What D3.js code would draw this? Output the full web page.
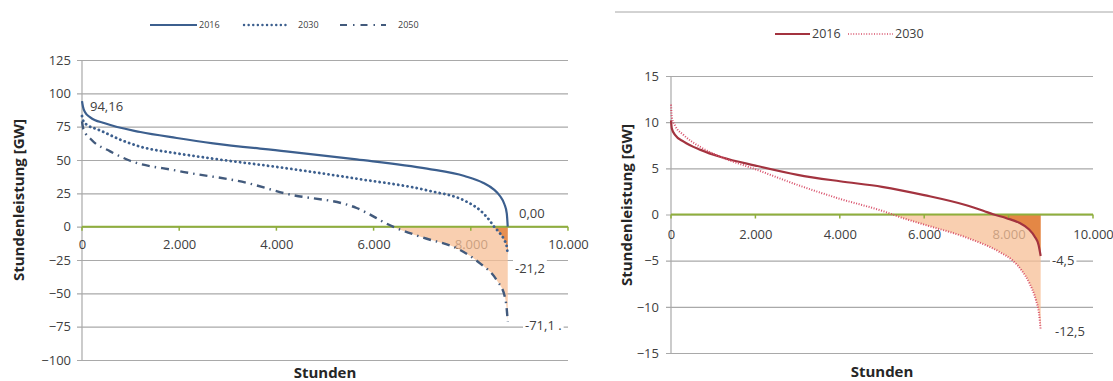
<!DOCTYPE html>
<html><head><meta charset="utf-8">
<script src="https://cdn.jsdelivr.net/npm/d3@7"></script>
<style>body{margin:0;background:#fff}text{font-family:"Open Sans",sans-serif}</style>
</head><body>
<svg id="c" width="1113" height="381"></svg>
<script>
// ---------- data ----------
const xTicks = [0, 2000, 4000, 6000, 8000, 10000];
const xTickLabels = ["0", "2.000", "4.000", "6.000", "8.000", "10.000"];
const leftYTicks = [125, 100, 75, 50, 25, 0, -25, -50, -75, -100];
const rightYTicks = [15, 10, 5, 0, -5, -10, -15];
const leftSeriesNames = ["2016", "2030", "2050"];
const rightSeriesNames = ["2016", "2030"];

const leftHours2016 = [0, 20, 60, 170, 470, 1200, 1950, 2700, 4200, 5650, 7100, 7870, 8250, 8470, 8600, 8690, 8740, 8760];
const leftValues2016 = [94.16, 90, 86, 82, 77.5, 71, 66.5, 62.5, 56.5, 50.5, 43.5, 38, 33, 28, 23, 17, 10, 0];

const leftHours2030 = [0, 30, 120, 320, 840, 1200, 1950, 2700, 4170, 5650, 7130, 7900, 8200, 8380, 8480, 8600, 8690, 8740, 8760];
const leftValues2030 = [83, 79, 76, 73, 64.5, 60, 55, 51, 44, 36, 27, 19, 12, 5, 0, -5, -10, -15, -21.2];

const leftHours2050 = [0, 30, 200, 580, 950, 1950, 3430, 4170, 5650, 6400, 7000, 7780, 8190, 8530, 8700, 8740, 8760];
const leftValues2050 = [79, 73, 65, 56.5, 50, 42, 32.5, 25, 14, 0, -8, -17.5, -27.5, -40, -52.5, -62, -71.1];

const rightHours2016 = [0, 20, 100, 300, 700, 1200, 2000, 3000, 4000, 5000, 6000, 7000, 7400, 7650, 7950, 8250, 8480, 8620, 8710, 8760];
const rightValues2016 = [10.2, 9.3, 8.6, 7.9, 7.0, 6.2, 5.3, 4.3, 3.6, 3.0, 2.1, 1.0, 0.4, 0, -0.4, -0.9, -1.6, -2.4, -3.3, -4.5];

const rightHours2030 = [0, 20, 100, 300, 700, 1200, 2000, 3000, 4000, 5000, 5500, 6000, 7000, 7800, 8100, 8300, 8500, 8650, 8720, 8760];
const rightValues2030 = [11.9, 10.5, 9.6, 8.6, 7.3, 6.2, 4.9, 3.2, 1.7, 0.4, -0.4, -1.1, -2.5, -4.1, -5.0, -6.0, -7.5, -9.3, -10.7, -12.5];

// ---------- helpers ----------
const svg = d3.select("#c");
const zip = (h, v) => h.map((d, i) => ({h: d, v: v[i]}));
const fmt = d => xTickLabels[xTicks.indexOf(d)];
const FONT = 13;

function panel(o) {
  const x = d3.scaleLinear().domain([0, 10000]).range([o.left, o.right]);
  const y = d3.scaleLinear().domain(o.yDomain).range([o.bottom, o.top]);
  const g = svg.append("g");

  // gridlines
  g.append("g").attr("transform", `translate(${o.left - 5},0)`)
    .call(d3.axisLeft(y).tickValues(o.yTicks).tickSize(-(o.right - o.left + 5)).tickFormat(""))
    .call(s => s.select(".domain").remove())
    .call(s => s.selectAll("line").attr("stroke", "#a9a9a9").attr("stroke-width", 1.2));
  // y labels
  g.append("g").attr("transform", `translate(${o.left},0)`)
    .call(d3.axisLeft(y).tickValues(o.yTicks).tickSize(0).tickPadding(o.yPad))
    .call(s => s.select(".domain").remove())
    .call(s => s.selectAll("text").attr("fill", "#404040").attr("font-size", FONT).attr("font-family", "Open Sans"));
  // vertical axis line
  g.append("line").attr("x1", o.left).attr("x2", o.left).attr("y1", y(o.yDomain[1])).attr("y2", y(o.yDomain[0]))
    .attr("stroke", "#a9a9a9").attr("stroke-width", 1.2);
  // x labels
  g.append("g").attr("transform", `translate(0,${y(0)})`)
    .call(d3.axisBottom(x).tickValues(xTicks).tickSize(0).tickPadding(o.xPad).tickFormat(fmt))
    .call(s => s.select(".domain").remove())
    .call(s => s.selectAll("text").attr("fill", "#404040").attr("font-size", FONT).attr("font-family", "Open Sans"));

  // fills (clipped below zero)
  const clipId = "clip" + o.id;
  svg.append("clipPath").attr("id", clipId).append("rect")
    .attr("x", o.left).attr("y", y(0)).attr("width", o.right - o.left).attr("height", o.bottom - y(0));
  const area = d3.area().x(d => x(d.h)).y0(y(0)).y1(d => y(d.v)).curve(d3.curveMonotoneX);
  o.fills.forEach(f => {
    g.append("path").datum(f.data).attr("d", area).attr("fill", f.color).attr("opacity", f.opacity)
      .attr("clip-path", `url(#${clipId})`);
  });

  // zero line + ticks
  g.append("line").attr("x1", o.left).attr("x2", o.right).attr("y1", y(0)).attr("y2", y(0))
    .attr("stroke", "#8faf3c").attr("stroke-width", 2);
  g.selectAll(".xt").data(xTicks).join("line")
    .attr("x1", d => x(d)).attr("x2", d => x(d)).attr("y1", y(0)).attr("y2", y(0) + 4)
    .attr("stroke", "#8faf3c").attr("stroke-width", 1.5);

  // lines
  const line = d3.line().x(d => x(d.h)).y(d => y(d.v)).curve(d3.curveMonotoneX);
  o.series.forEach(s => {
    g.append("path").datum(s.data).attr("d", line).attr("fill", "none")
      .attr("stroke", s.color).attr("stroke-width", s.width)
      .attr("stroke-dasharray", s.dash || null).attr("stroke-linecap", s.cap || "butt");
  });

  // data labels
  o.labels.forEach(l => {
    const t = g.append("text").attr("x", l.x).attr("y", l.y).attr("dy", "0.35em")
      .attr("font-size", FONT).attr("fill", "#404040").text(l.text);
    if (l.bg) {
      const b = t.node().getBBox();
      g.insert("rect", () => t.node()).attr("x", b.x - 2).attr("y", b.y).attr("width", b.width + 4)
        .attr("height", b.height).attr("fill", "#fff");
    }
  });

  // axis titles
  g.append("text").attr("transform", `translate(${o.yTitleX},${o.yTitleY}) rotate(-90)`)
    .attr("text-anchor", "middle").attr("dy", "0.35em").attr("font-weight", "bold").attr("font-size", 15)
    .attr("fill", "#262626").text("Stundenleistung [GW]");
  g.append("text").attr("x", (o.left + o.right) / 2).attr("y", o.xTitleY).attr("dy", "0.35em")
    .attr("text-anchor", "middle").attr("font-weight", "bold").attr("font-size", 15)
    .attr("fill", "#262626").text("Stunden");

  // legend
  o.legend.forEach(l => {
    g.append("line").attr("x1", l.x1).attr("x2", l.x2).attr("y1", o.legendY).attr("y2", o.legendY)
      .attr("stroke", l.color).attr("stroke-width", l.width).attr("stroke-dasharray", l.dash || null)
      .attr("stroke-linecap", l.cap || "butt");
    g.append("text").attr("x", l.tx).attr("y", o.legendY).attr("dy", "0.35em").attr("font-size", o.legendFont)
      .attr("fill", "#404040").text(l.name);
  });
}

const blue = "#3c5f8e";
panel({
  id: "L", left: 82, right: 568, top: 60, bottom: 360, yDomain: [-100, 125], yTicks: leftYTicks, yPad: 11, xPad: 13,
  fills: [
    {data: zip(leftHours2050, leftValues2050), color: "#f7bf96", opacity: 0.75},
    {data: zip(leftHours2030, leftValues2030), color: "#e07a33", opacity: 0.75}
  ],
  series: [
    {data: zip(leftHours2016, leftValues2016), color: blue, width: 2.2},
    {data: zip(leftHours2030, leftValues2030), color: blue, width: 2.8, dash: "0.1 4.6", cap: "round"},
    {data: zip(leftHours2050, leftValues2050), color: "#425a7c", width: 2.4, dash: "8 5 1.5 5"}
  ],
  labels: [
    {x: 90, y: 106, text: "94,16"},
    {x: 519, y: 213, text: "0,00"},
    {x: 515, y: 268, text: "-21,2", bg: true},
    {x: 525, y: 325, text: "-71,1 .", bg: true}
  ],
  yTitleX: 19, yTitleY: 200, xTitleY: 373,
  legendY: 25, legendFont: 9,
  legend: [
    {x1: 150, x2: 197, tx: 199, name: leftSeriesNames[0], color: blue, width: 2},
    {x1: 244, x2: 288, tx: 298, name: leftSeriesNames[1], color: blue, width: 2.4, dash: "0.1 4.5", cap: "round"},
    {x1: 340, x2: 386, tx: 398, name: leftSeriesNames[2], color: "#425a7c", width: 2, dash: "7 6 1.5 6"}
  ]
});

panel({
  id: "R", left: 671, right: 1093, top: 76, bottom: 353, yDomain: [-15, 15], yTicks: rightYTicks, yPad: 12, xPad: 15,
  fills: [
    {data: zip(rightHours2030, rightValues2030), color: "#f7bf96", opacity: 0.75},
    {data: zip(rightHours2016, rightValues2016), color: "#e07a33", opacity: 0.85}
  ],
  series: [
    {data: zip(rightHours2016, rightValues2016), color: "#a3333f", width: 2.2},
    {data: zip(rightHours2030, rightValues2030), color: "#d8506a", width: 2, dash: "1 1.6"}
  ],
  labels: [
    {x: 1052, y: 260, text: "-4,5", bg: true},
    {x: 1055, y: 331, text: "-12,5"}
  ],
  yTitleX: 627, yTitleY: 205, xTitleY: 372,
  legendY: 34, legendFont: 12.5,
  legend: [
    {x1: 775, x2: 810, tx: 812, name: rightSeriesNames[0], color: "#a3333f", width: 2.2},
    {x1: 848, x2: 893, tx: 895, name: rightSeriesNames[1], color: "#d8506a", width: 1.6, dash: "1 1.6"}
  ]
});

// separator line top right
svg.append("line").attr("x1", 615).attr("x2", 1113).attr("y1", 12).attr("y2", 12)
  .attr("stroke", "#a6a6a6").attr("stroke-width", 1);
</script>
</body></html>
